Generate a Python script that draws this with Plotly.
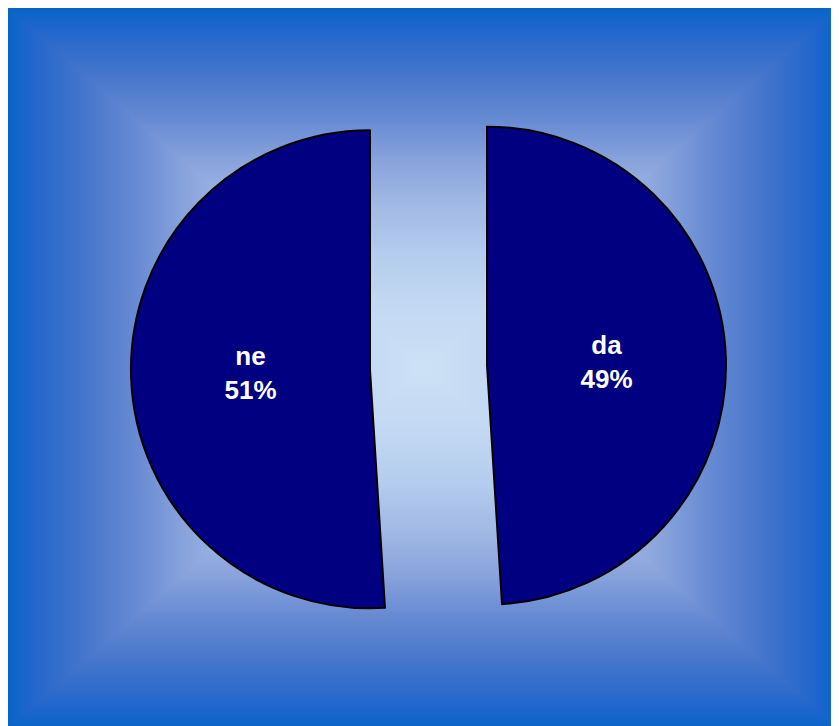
import plotly.graph_objects as go

# Data
labels = ["da", "ne"]
values = [49, 51]

W, H = 831, 718

# Background rectangular gradient (style only)
grad_stops = [
    (0.00, (205, 225, 246)),
    (0.18, (194, 216, 242)),
    (0.32, (180, 204, 237)),
    (0.46, (160, 184, 228)),
    (0.57, (138, 164, 220)),
    (0.68, (106, 140, 212)),
    (0.80, (74, 120, 204)),
    (0.94, (34, 102, 204)),
    (1.00, (8, 100, 200)),
]


def grad_color(t):
    for (t0, c0), (t1, c1) in zip(grad_stops[:-1], grad_stops[1:]):
        if t0 <= t <= t1:
            f = (t - t0) / (t1 - t0) if t1 > t0 else 0
            c = [round(a + (b - a) * f) for a, b in zip(c0, c1)]
            return "rgb(%d,%d,%d)" % tuple(c)
    return "rgb(%d,%d,%d)" % grad_stops[-1][1]


cxp, cyp = 415.0, 360.0   # gradient centre (px from top-left of figure)
hw, hh = 416.0, 360.0

shapes = []
N = 160
for i in range(N, 0, -1):
    t = i / N
    x0 = (cxp - t * hw) / W
    x1 = (cxp + t * hw) / W
    y_top = (cyp - t * hh)
    y_bot = (cyp + t * hh)
    shapes.append(dict(
        type="rect", xref="paper", yref="paper", layer="below",
        x0=x0, x1=x1, y0=1 - y_bot / H, y1=1 - y_top / H,
        fillcolor=grad_color(t - 0.5 / N), line=dict(width=0),
    ))

# Pie geometry
cx, cy = 420.5, 359.5
pull = 0.245
rfull = 239 * (1 + pull)

fig = go.Figure(go.Pie(
    labels=labels,
    values=values,
    sort=False,
    direction="clockwise",
    rotation=0,
    pull=[pull, pull],
    marker=dict(colors=["#000080", "#000080"], line=dict(color="black", width=2)),
    textinfo="label+percent",
    textposition="inside",
    insidetextorientation="horizontal",
    texttemplate="%{label}<br>%{percent:.0%}",
    textfont=dict(color="white", size=26, family="Liberation Sans", weight="bold"),
    hoverinfo="skip",
    domain=dict(
        x=[(cx - rfull) / W, (cx + rfull) / W],
        y=[1 - (cy + rfull) / H, 1 - (cy - rfull) / H],
    ),
))

fig.update_layout(
    width=W, height=H,
    margin=dict(l=0, r=0, t=0, b=0),
    paper_bgcolor="rgb(8,100,200)",
    plot_bgcolor="rgb(8,100,200)",
    showlegend=False,
    shapes=shapes,
)

fig.write_html("out.html")
